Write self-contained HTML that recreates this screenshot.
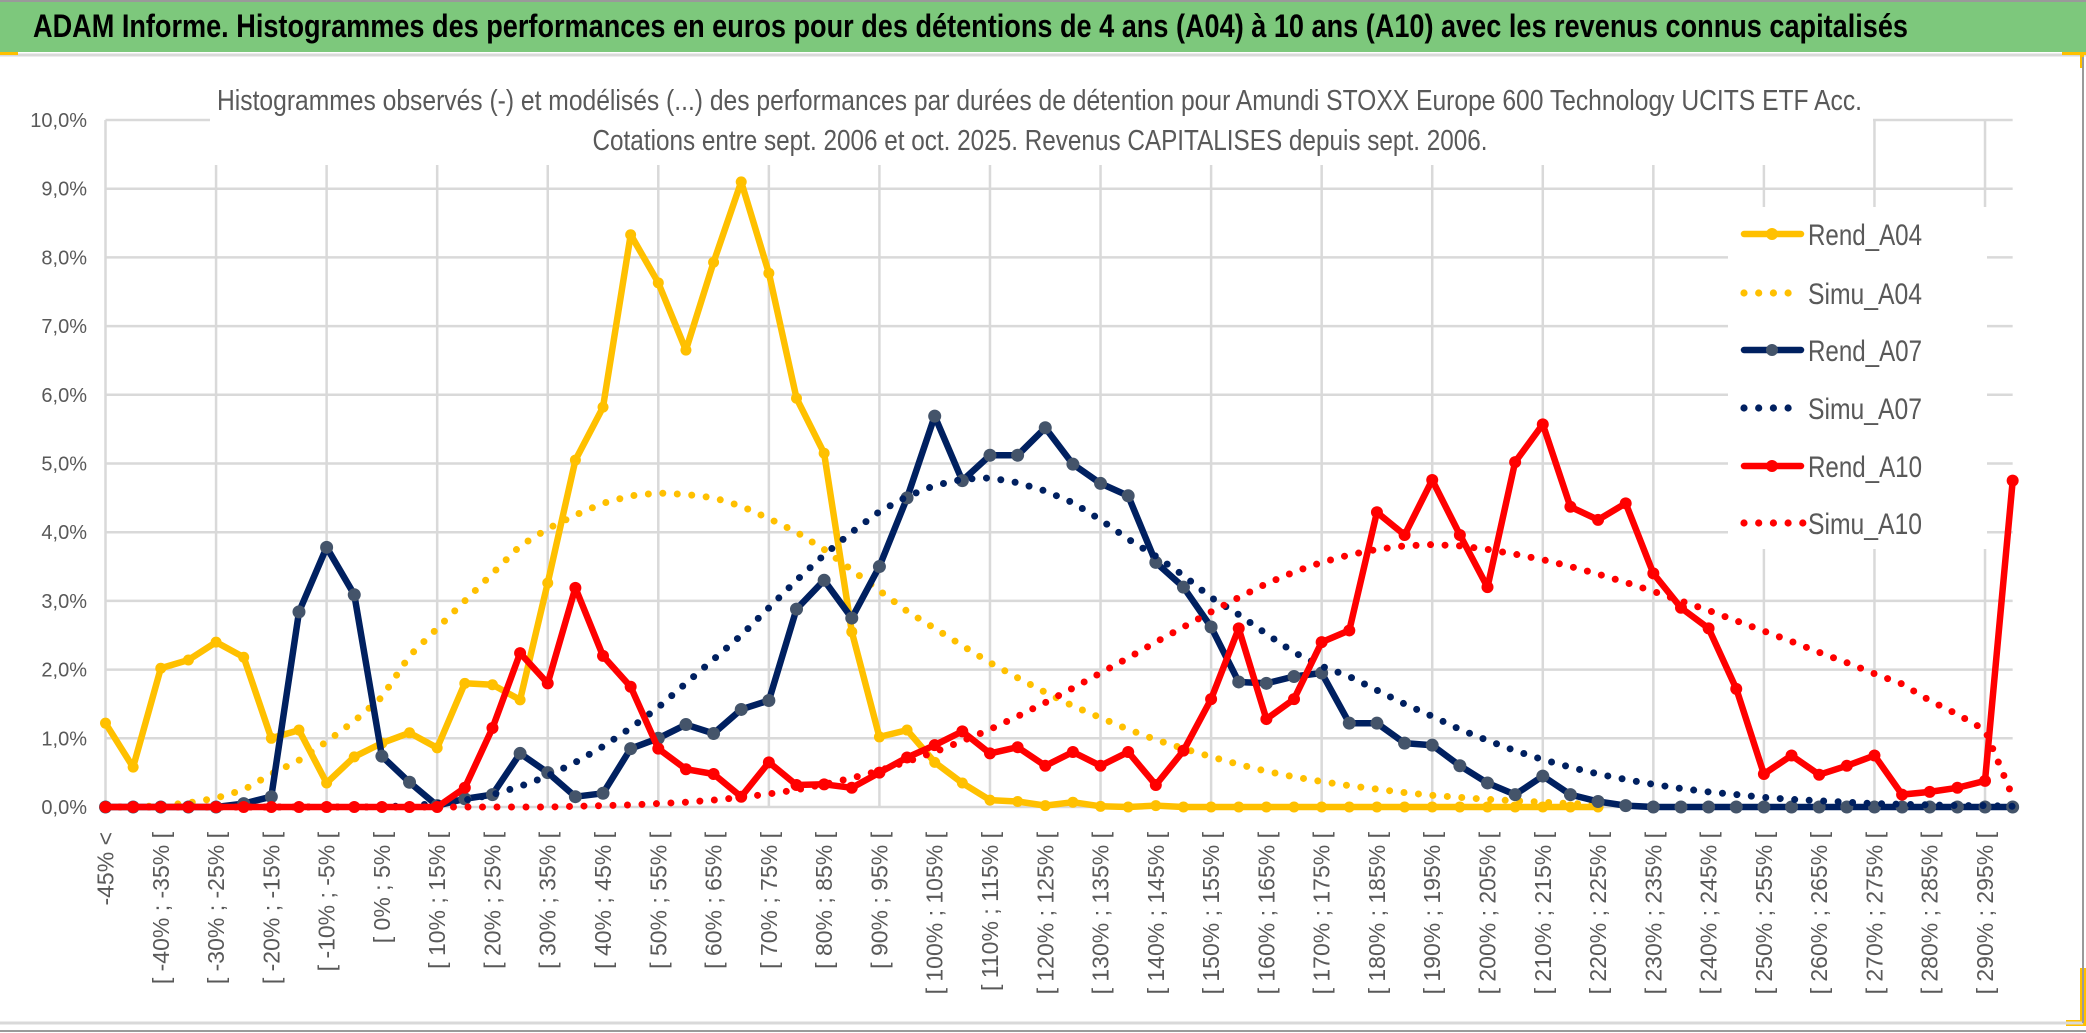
<!DOCTYPE html>
<html><head><meta charset="utf-8"><style>
html,body{margin:0;padding:0;background:#fff;}
svg{display:block;}
text{font-family:"Liberation Sans",sans-serif;}
.cond{font-family:"Liberation Sans Narrow","Liberation Sans",sans-serif;}
</style></head><body>
<svg id="chart" width="2086" height="1033" viewBox="0 0 2086 1033" xmlns="http://www.w3.org/2000/svg">
<rect x="0" y="0" width="2086" height="1033" fill="#fff"/>
<rect x="0" y="2" width="2086" height="50" fill="#7DC87C"/>
<line x1="0" y1="1" x2="2086" y2="1" stroke="#9a9a9a" stroke-width="2"/>
<line x1="0" y1="55" x2="2086" y2="55" stroke="#d9d9d9" stroke-width="3"/>
<rect x="0" y="52" width="18" height="3" fill="#FFC000"/>
<rect x="2062" y="52" width="24" height="3" fill="#FFC000"/>
<rect x="2080" y="52" width="4" height="16" fill="#FFC000"/>
<rect x="2066" y="1020" width="20" height="6" fill="#FFC000"/>
<rect x="2080" y="968" width="6" height="58" fill="#FFC000"/>
<text class="cond" x="33" y="37" font-size="32" font-weight="bold" fill="#000" textLength="1875" lengthAdjust="spacingAndGlyphs">ADAM Informe. Histogrammes des performances en euros pour des détentions de 4 ans (A04) à 10 ans (A10) avec les revenus connus capitalisés</text>
<g id="grid"></g>
<rect x="210" y="57" width="1663" height="108" fill="#fff"/>
<text class="cond" x="217" y="110" font-size="29" fill="#595959" textLength="1645" lengthAdjust="spacingAndGlyphs">Histogrammes observés (-) et modélisés (...) des performances par durées de détention pour Amundi STOXX Europe 600 Technology UCITS ETF Acc.</text>
<text class="cond" x="1040" y="150" font-size="29" fill="#595959" text-anchor="middle" textLength="895" lengthAdjust="spacingAndGlyphs">Cotations entre sept. 2006 et oct. 2025. Revenus CAPITALISES depuis sept. 2006.</text>
<g id="yaxis"></g>
<g id="xaxis"></g>
<g id="series"></g>
<g id="legend"></g>
<line x1="0" y1="1023" x2="2083" y2="1023" stroke="#d9d9d9" stroke-width="3"/>
<line x1="0" y1="1031" x2="2086" y2="1031" stroke="#9a9a9a" stroke-width="2"/>
<line x1="2083" y1="57" x2="2083" y2="1023" stroke="#9a9a9a" stroke-width="2"/>
</svg>
<script>
const categories = ["-45% <","[ -45% ; -40% [","[ -40% ; -35% [","[ -35% ; -30% [","[ -30% ; -25% [","[ -25% ; -20% [","[ -20% ; -15% [","[ -15% ; -10% [","[ -10% ; -5% [","[ -5% ; 0% [","[ 0% ; 5% [","[ 5% ; 10% [","[ 10% ; 15% [","[ 15% ; 20% [","[ 20% ; 25% [","[ 25% ; 30% [","[ 30% ; 35% [","[ 35% ; 40% [","[ 40% ; 45% [","[ 45% ; 50% [","[ 50% ; 55% [","[ 55% ; 60% [","[ 60% ; 65% [","[ 65% ; 70% [","[ 70% ; 75% [","[ 75% ; 80% [","[ 80% ; 85% [","[ 85% ; 90% [","[ 90% ; 95% [","[ 95% ; 100% [","[ 100% ; 105% [","[ 105% ; 110% [","[ 110% ; 115% [","[ 115% ; 120% [","[ 120% ; 125% [","[ 125% ; 130% [","[ 130% ; 135% [","[ 135% ; 140% [","[ 140% ; 145% [","[ 145% ; 150% [","[ 150% ; 155% [","[ 155% ; 160% [","[ 160% ; 165% [","[ 165% ; 170% [","[ 170% ; 175% [","[ 175% ; 180% [","[ 180% ; 185% [","[ 185% ; 190% [","[ 190% ; 195% [","[ 195% ; 200% [","[ 200% ; 205% [","[ 205% ; 210% [","[ 210% ; 215% [","[ 215% ; 220% [","[ 220% ; 225% [","[ 225% ; 230% [","[ 230% ; 235% [","[ 235% ; 240% [","[ 240% ; 245% [","[ 245% ; 250% [","[ 250% ; 255% [","[ 255% ; 260% [","[ 260% ; 265% [","[ 265% ; 270% [","[ 270% ; 275% [","[ 275% ; 280% [","[ 280% ; 285% [","[ 285% ; 290% [","[ 290% ; 295% [","[ 295% ; 300% ["];
const yTicks = [0,1,2,3,4,5,6,7,8,9,10];
const yTickLabels = ["0,0%","1,0%","2,0%","3,0%","4,0%","5,0%","6,0%","7,0%","8,0%","9,0%","10,0%"];
const rendA04 = [1.22,0.58,2.02,2.14,2.4,2.18,1.0,1.12,0.35,0.73,0.93,1.08,0.86,1.8,1.78,1.56,3.26,5.05,5.82,8.33,7.63,6.65,7.93,9.1,7.77,5.95,5.15,2.55,1.02,1.12,0.65,0.35,0.1,0.08,0.02,0.07,0.01,0,0.02,0,0,0,0,0,0,0,0,0,0,0,0,0,0,0,0,null,null,null,null,null,null,null,null,null,null,null,null,null,null,null];
const simuA04 = [0,0,0.02,0.06,0.13,0.25,0.48,0.68,0.95,1.25,1.6,2.2,2.6,3.0,3.4,3.8,4.05,4.25,4.42,4.53,4.57,4.55,4.5,4.38,4.2,4.0,3.75,3.45,3.15,2.85,2.6,2.35,2.1,1.88,1.67,1.47,1.3,1.13,0.98,0.85,0.73,0.62,0.52,0.44,0.37,0.31,0.26,0.21,0.17,0.14,0.11,0.09,0.07,0.05,0.04,null,null,null,null,null,null,null,null,null,null,null,null,null,null,null];
const rendA07 = [0,0,0,0,0,0.05,0.15,2.84,3.78,3.09,0.74,0.36,0.02,0.12,0.18,0.78,0.5,0.15,0.2,0.85,1.0,1.2,1.07,1.42,1.55,2.88,3.3,2.75,3.5,4.5,5.69,4.75,5.12,5.12,5.52,4.99,4.71,4.53,3.56,3.2,2.62,1.82,1.8,1.9,1.95,1.22,1.22,0.93,0.9,0.6,0.35,0.18,0.45,0.18,0.08,0.02,0,0,0,0,0,0,0,0,0,0,0,0,0,0];
const simuA07 = [0,0,0,0,0,0,0,0,0,0,0,0.02,0.05,0.1,0.18,0.3,0.45,0.65,0.88,1.15,1.45,1.8,2.15,2.5,2.9,3.3,3.67,4.0,4.3,4.52,4.68,4.77,4.79,4.72,4.6,4.43,4.18,3.9,3.65,3.37,3.05,2.8,2.52,2.25,2.05,1.9,1.7,1.5,1.32,1.13,0.97,0.82,0.69,0.58,0.48,0.4,0.33,0.27,0.22,0.18,0.14,0.11,0.09,0.07,0.05,0.04,0.03,0.02,0.02,0.01];
const rendA10 = [0,0,0,0,0,0,0,0,0,0,0,0,0,0.28,1.15,2.24,1.8,3.19,2.2,1.75,0.85,0.55,0.48,0.15,0.65,0.32,0.33,0.28,0.5,0.72,0.9,1.1,0.78,0.87,0.6,0.8,0.6,0.8,0.32,0.82,1.57,2.6,1.28,1.57,2.4,2.57,4.29,3.96,4.76,3.96,3.2,5.02,5.57,4.37,4.18,4.42,3.4,2.9,2.6,1.72,0.48,0.75,0.47,0.6,0.75,0.18,0.22,0.28,0.38,4.75];
const simuA10 = [0,0,0,0,0,0,0,0,0,0,0,0,0,0,0,0,0,0.01,0.02,0.03,0.05,0.07,0.1,0.14,0.19,0.25,0.33,0.42,0.53,0.66,0.8,0.96,1.13,1.32,1.52,1.73,1.95,2.17,2.4,2.62,2.84,3.05,3.25,3.42,3.56,3.67,3.75,3.8,3.82,3.8,3.75,3.68,3.6,3.5,3.39,3.27,3.14,3.0,2.86,2.71,2.56,2.41,2.25,2.1,1.94,1.79,1.55,1.35,1.12,0.15];

const NS = "http://www.w3.org/2000/svg";
const X0 = 105.5, DX = 27.64, Y0 = 807, DY = 68.7;
function xs(i){ return X0 + i*DX; }
function ys(v){ return Y0 - v*DY; }
function mk(tag, attrs, parent){ const e = document.createElementNS(NS, tag); for (const k in attrs) e.setAttribute(k, attrs[k]); parent.appendChild(e); return e; }

const grid = document.getElementById('grid');
const lastX = xs(categories.length - 1);
yTicks.forEach((t) => {
  const l = mk('line', {x1: X0, x2: lastX, y1: ys(t), y2: ys(t), stroke: '#d9d9d9', 'stroke-width': 2.5}, grid);
  
  
});
for (let i = 0; i < categories.length; i += 4) {
  const l = mk('line', {x1: xs(i), x2: xs(i), y1: ys(yTicks[yTicks.length-1]), y2: ys(0), stroke: '#d9d9d9', 'stroke-width': 2.5}, grid);
  
  
}

const yaxis = document.getElementById('yaxis');
yTicks.forEach((t, k) => {
  const tx = mk('text', {x: 87, y: ys(t) + 7, 'font-size': 20, fill: '#595959', 'text-anchor': 'end'}, yaxis);
  tx.textContent = yTickLabels[k];
  
  
});

const xaxis = document.getElementById('xaxis');
categories.forEach((c, i) => {
  if (i % 2 !== 0) return;
  const x = xs(i) + 8, y = 832;
  const tx = mk('text', {x: x, y: y, 'font-size': 23, fill: '#595959', 'text-anchor': 'end', transform: 'rotate(-90 ' + x + ' ' + y + ')'}, xaxis);
  tx.textContent = c;
  
  
});

const series = document.getElementById('series');
function pathFor(vals){
  let d = '', pen = false;
  vals.forEach((v, i) => {
    if (v === null) { pen = false; return; }
    d += (pen ? 'L' : 'M') + xs(i).toFixed(1) + ',' + ys(v).toFixed(1);
    pen = true;
  });
  return d;
}
function drawSolid(vals, color, mcolor, r, name){
  const g = mk('g', {}, series);
  
  
  mk('path', {d: pathFor(vals), fill: 'none', stroke: color, 'stroke-width': 6.5, 'stroke-linejoin': 'round', 'stroke-linecap': 'round'}, g);
  vals.forEach((v, i) => {
    if (v === null) return;
    const c = mk('circle', {cx: xs(i), cy: ys(v), r: r, fill: mcolor}, g);
    
    
  });
}
function drawDotted(vals, color, name){
  const p = mk('path', {d: pathFor(vals), fill: 'none', stroke: color, 'stroke-width': 7, 'stroke-dasharray': '0 14.5', 'stroke-linecap': 'round'}, series);
  
  
}
drawSolid(rendA04, '#FFC000', '#FFC000', 5.5, 'rend-a04-line');
drawDotted(simuA04, '#FFC000', 'simu-a04-line');
drawSolid(rendA07, '#002060', '#44546A', 6.5, 'rend-a07-line');
drawDotted(simuA07, '#002060', 'simu-a07-line');
drawSolid(rendA10, '#FF0000', '#FF0000', 6, 'rend-a10-line');
drawDotted(simuA10, '#FF0000', 'simu-a10-line');

const legend = document.getElementById('legend');
mk('rect', {x: 1728, y: 207, width: 259, height: 342, fill: '#fff'}, legend);
const legendNames = ['Rend_A04','Simu_A04','Rend_A07','Simu_A07','Rend_A10','Simu_A10'];
const legendColors = ['#FFC000','#FFC000','#002060','#002060','#FF0000','#FF0000'];
const legendMarker = ['#FFC000',null,'#44546A',null,'#FF0000',null];
const legendY = [234,293,350,408,466,523];
legendNames.forEach((n, k) => {
  const g = mk('g', {}, legend);
  
  
  const y = legendY[k];
  if (legendMarker[k]) {
    mk('line', {x1: 1744, x2: 1801, y1: y, y2: y, stroke: legendColors[k], 'stroke-width': 6.5, 'stroke-linecap': 'round'}, g);
    mk('circle', {cx: 1772, cy: y, r: 6, fill: legendMarker[k]}, g);
  } else {
    const n5 = k === 5 ? 5 : 4;
    for (let j = 0; j < n5; j++) mk('circle', {cx: 1744 + j*14.7, cy: y, r: 3.6, fill: legendColors[k]}, g);
  }
  const t = mk('text', {x: 1808, y: y + 11, 'font-size': 30, fill: '#595959', class: 'cond', textLength: 114, lengthAdjust: 'spacingAndGlyphs'}, g);
  t.textContent = n;
});
</script>
</body></html>
